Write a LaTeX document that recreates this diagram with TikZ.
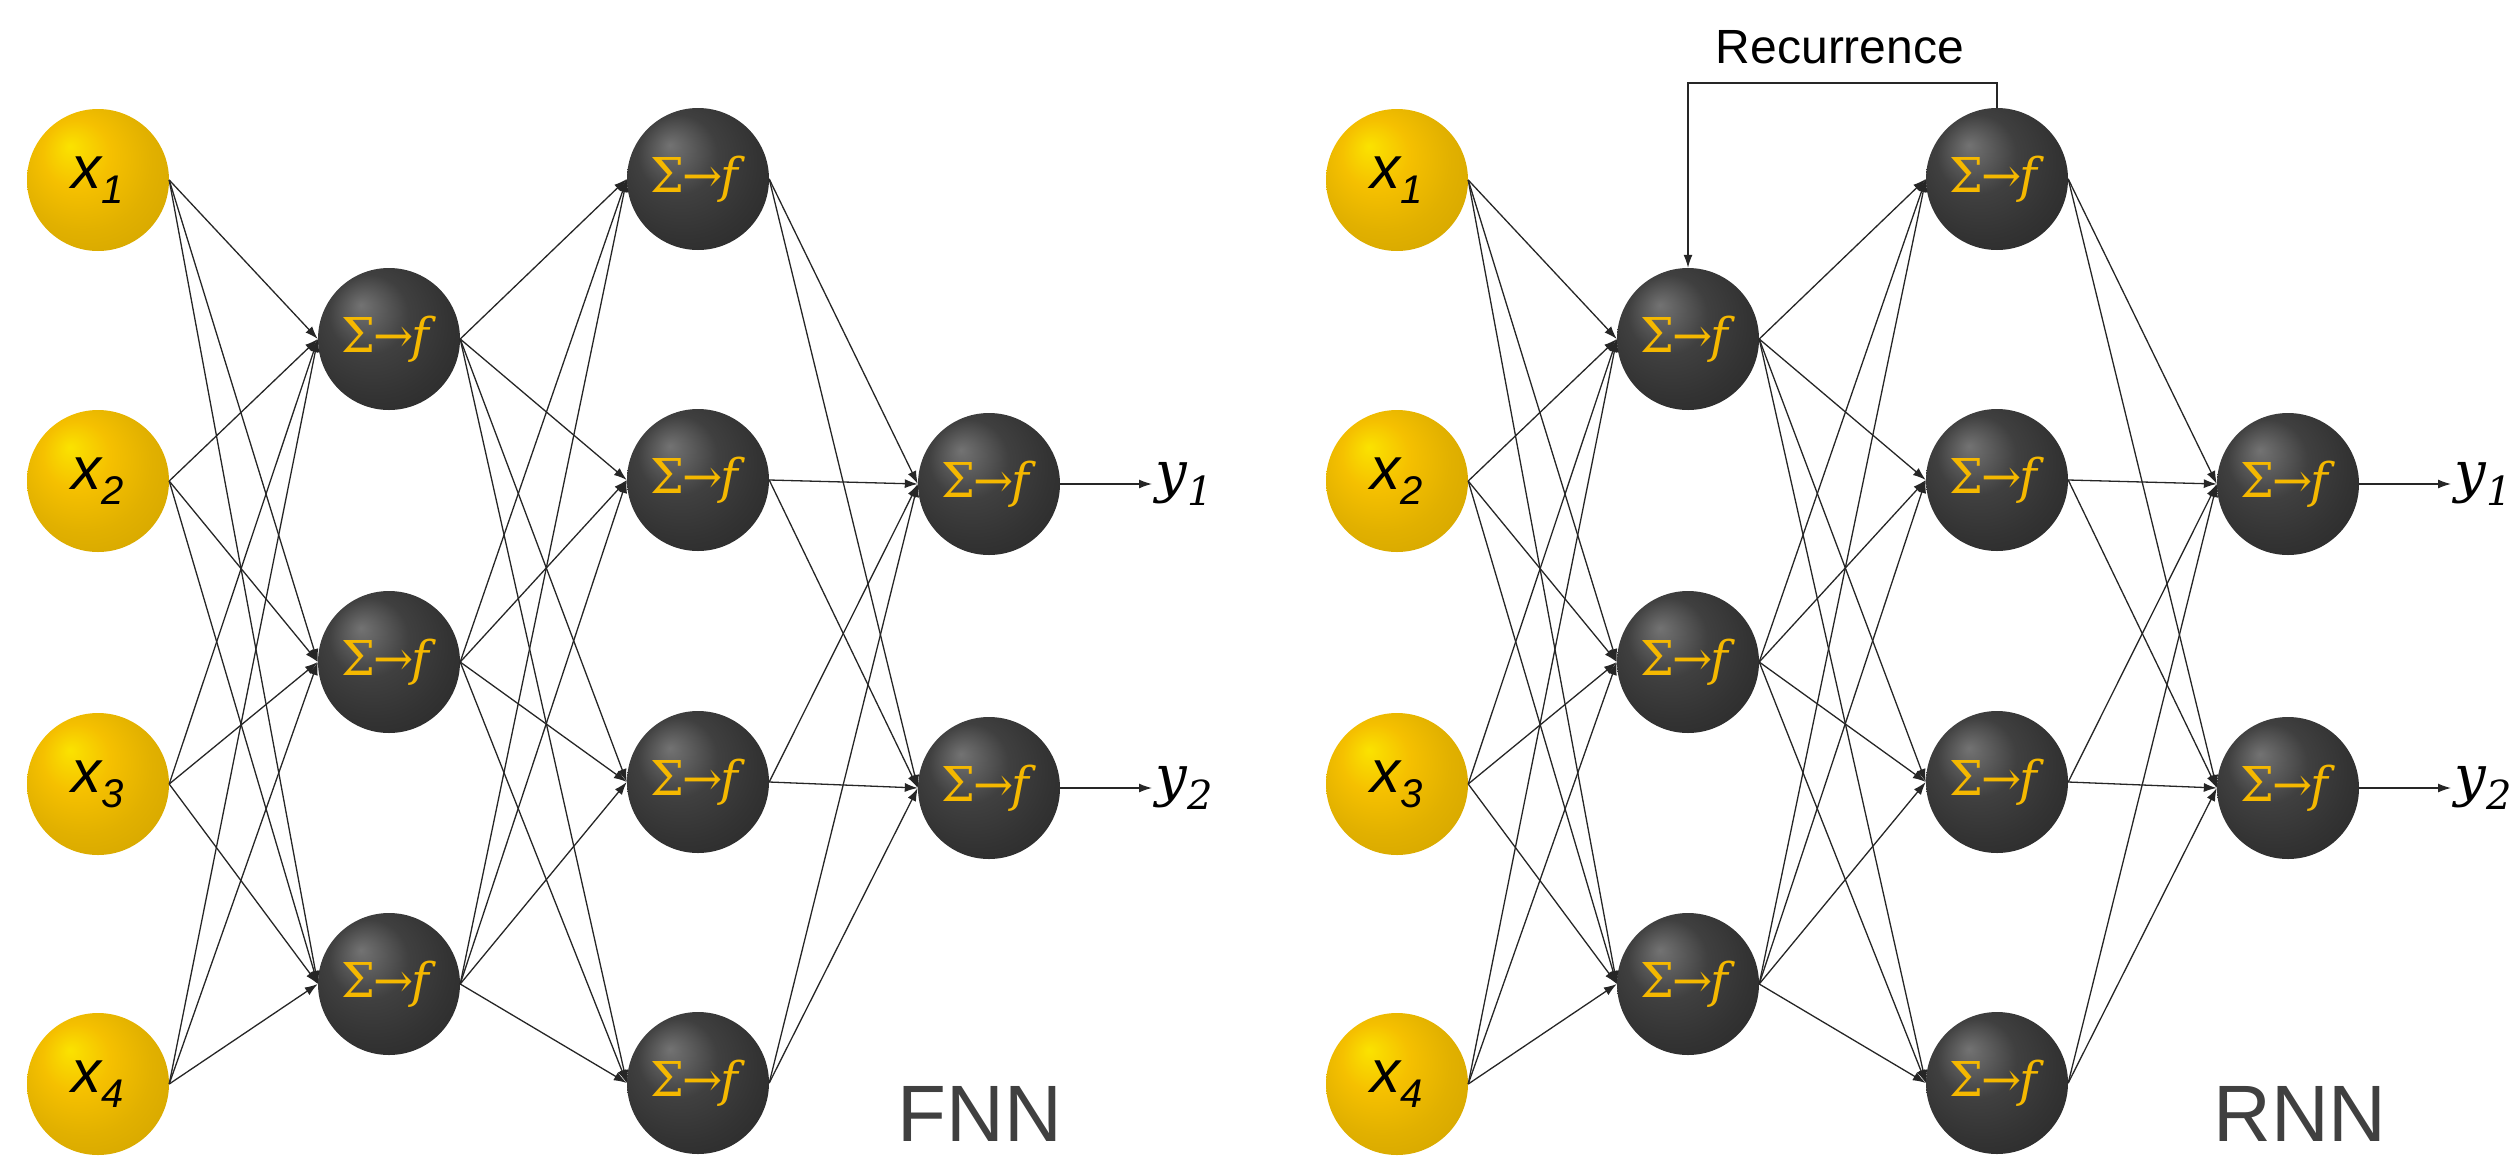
\documentclass[tikz,border=0pt]{standalone}
\usepackage{fontspec}
\setmainfont{DejaVu Serif}
\setsansfont{Liberation Sans}
\usetikzlibrary{arrows.meta}
\definecolor{gold}{HTML}{F5C000}
\definecolor{txtgold}{HTML}{F5B800}
\pgfdeclareradialshading{goldball}{\pgfpoint{-10bp}{12bp}}{%
  color(0bp)=(yellow!55!gold); color(12bp)=(gold); color(24bp)=(gold!92!black); color(50bp)=(gold!80!black)}
\pgfdeclareradialshading{darkball}{\pgfpoint{-10bp}{12bp}}{%
  color(0bp)=(black!55); color(14bp)=(black!75); color(26bp)=(black!80); color(50bp)=(black!88)}
\begin{document}
\begin{tikzpicture}[x=1pt,y=-1pt,
  inp/.style={circle,minimum size=142pt,inner sep=0pt,shading=goldball,
     font=\sffamily\fontsize{60}{60}\selectfont\itshape},
  neu/.style={circle,minimum size=142pt,inner sep=0pt,shading=darkball,
     text=txtgold,font=\rmfamily\fontsize{48}{48}\selectfont},
  con/.style={-{Latex[length=13pt,width=9pt]},line width=1.3pt,black!85},
  lab/.style={font=\rmfamily\fontsize{56}{56}\selectfont\itshape},
  big/.style={font=\sffamily\fontsize{80}{80}\selectfont,text=black!75}]
\useasboundingbox (0,0) rectangle (2518,1170);
\newcommand{\sg}{Σ\kern-2pt→\kern-2pt\textit{f}}
\newcommand{\sub}[1]{\raisebox{-0.25em}{\fontsize{40}{40}\selectfont #1}}
\foreach \net/\dx in {L/0,R/1299}{
  \foreach \i/\y in {1/180,2/481,3/784,4/1084}
    \node[inp] (\net x\i) at (98+\dx,\y) {x\sub{\i}};
  \foreach \i/\y in {1/339,2/662,3/984}
    \node[neu] (\net h\i) at (389+\dx,\y) {\sg};
  \foreach \i/\y in {1/179,2/480,3/782,4/1083}
    \node[neu] (\net g\i) at (698+\dx,\y) {\sg};
  \foreach \i/\y in {1/484,2/788}
    \node[neu] (\net o\i) at (989+\dx,\y) {\sg};
  \foreach \a in {1,...,4} \foreach \b in {1,2,3}
    \draw[con] (\net x\a.east) -- (\net h\b.west);
  \foreach \a in {1,2,3} \foreach \b in {1,...,4}
    \draw[con] (\net h\a.east) -- (\net g\b.west);
  \foreach \a in {1,...,4} \foreach \b in {1,2}
    \draw[con] (\net g\a.east) -- (\net o\b.west);
  \foreach \i in {1,2}{
    \node[lab,anchor=west] (\net y\i) at (1152+\dx,484+304*\i-304) {y\sub{\i}};
    \draw[con] (\net o\i.east) -- (\net y\i.west);
  }
}
\node[big] (fnn) at (980,1114) {FNN};
\node[big] (rnn) at (2300,1114) {RNN};
\node[font=\sffamily\fontsize{48}{48}\selectfont] (rec) at (1840,47) {Recurrence};
\coordinate (c1) at (1997,83);
\coordinate (c2) at (1688,83);
\draw[con] (Rg1.north) -- (c1) -- (c2) -- (Rh1.north);
\end{tikzpicture}
\end{document}
